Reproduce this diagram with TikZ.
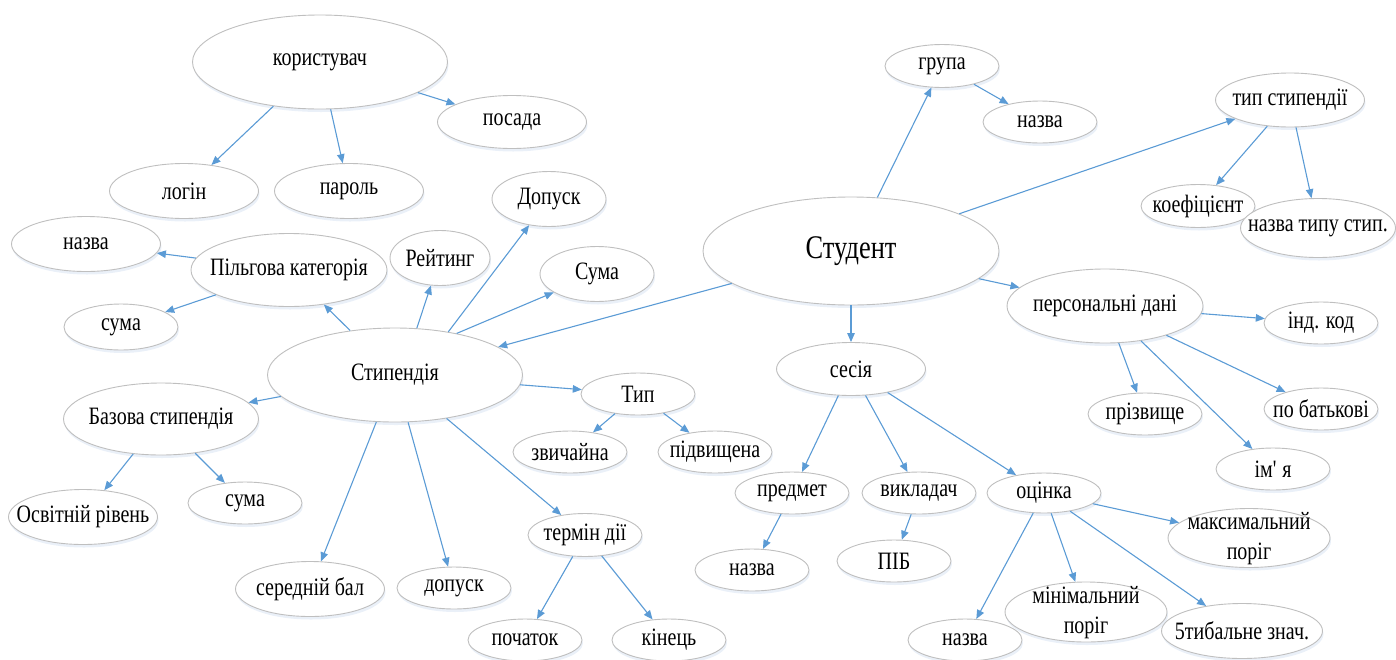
\documentclass[tikz,border=0pt]{standalone}
\usepackage{fontspec}
\setmainfont[FakeStretch=0.8]{Liberation Serif}
\usetikzlibrary{shapes.geometric,arrows.meta,shadows}
\definecolor{ovline}{HTML}{BFBFBF}
\definecolor{linkblue}{HTML}{5B9BD5}
\definecolor{ovshadow}{HTML}{DCE6F4}
\newcommand{\nw}[1]{\makebox[0pt]{#1}}
\newcommand{\twol}[2]{\makebox[0pt]{\begin{tabular}{@{}c@{}}#1\\#2\end{tabular}}}
\begin{document}
\begin{tikzpicture}[x=1pt, y=-1pt,
  every node/.style={inner sep=0pt, font=\fontsize{25}{30}\selectfont},
  ov/.style={ellipse, draw=ovline, line width=0.9pt, fill=white,
    drop shadow={shadow xshift=1pt, shadow yshift=-3pt, fill=ovshadow, opacity=0.6}},
  sm/.style={ov, minimum width=114pt, minimum height=42pt},
  md/.style={ov, minimum width=149pt, minimum height=55pt},
  lg/.style={ov, minimum width=196pt, minimum height=73pt},
  hub/.style={ov, minimum width=255pt, minimum height=94pt},
  twoline/.style={ov, inner ysep=-16pt},
  link/.style={draw=linkblue, line width=1.1pt, -{Triangle[length=9pt, width=7.5pt]}}]
  \useasboundingbox (0,0) rectangle (1396,659);
  \node[hub] (user) at (320,62) {\nw{користувач}};
  \node[md] (login) at (184,191) {\nw{логін}};
  \node[md] (pass) at (349,191) {\nw{пароль}};
  \node[md, minimum height=53pt] (posada) at (512,122) {\nw{посада}};
  \node[md] (naz1) at (86,244) {\nw{назва}};
  \node[lg] (pilg) at (289,270) {\nw{Пільгова категорія}};
  \node[md, minimum width=100pt] (rating) at (440,258) {\nw{Рейтинг}};
  \node[sm, minimum height=46pt] (suma1) at (121,327) {\nw{сума}};
  \node[sm, minimum height=55pt] (dopusk) at (549,199) {\nw{Допуск}};
  \node[sm, minimum height=55pt] (suma2) at (597,274) {\nw{Сума}};
  \node[hub] (stip) at (395,375) {\nw{Стипендія}};
  \node[lg, minimum width=195pt, minimum height=72pt] (bazova) at (161,419) {\nw{Базова стипендія}};
  \node[md] (osvit) at (83,517) {\nw{Освітній рівень}};
  \node[sm] (suma3) at (245,503) {\nw{сума}};
  \node[md] (serbal) at (310,589) {\nw{середній бал}};
  \node[sm] (dopusk2) at (454,588) {\nw{допуск}};
  \node[sm] (typ) at (638,394) {\nw{Тип}};
  \node[sm] (zvych) at (570,452) {\nw{звичайна}};
  \node[sm] (pidv) at (715,452) {\nw{підвищена}};
  \node[sm, minimum height=43pt] (termin) at (585,535) {\nw{термін дії}};
  \node[sm] (pochatok) at (525,640) {\nw{початок}};
  \node[sm] (kinets) at (669,640) {\nw{кінець}};
  \node[ov, minimum width=296pt, minimum height=108pt, font=\fontsize{33}{36}\selectfont] (stud) at (851,251) {\nw{Студент}};
  \node[sm, minimum height=43pt] (grupa) at (942,66) {\nw{група}};
  \node[sm] (naz2) at (1040,122) {\nw{назва}};
  \node[md, minimum height=54pt] (typst) at (1290,100) {\nw{тип стипендії}};
  \node[sm, minimum height=43pt] (koef) at (1198,206) {\nw{коефіцієнт}};
  \node[ov, minimum width=155pt, minimum height=59pt] (naztyp) at (1318,228) {\nw{назва типу стип.}};
  \node[lg, minimum height=74pt] (pers) at (1105,306) {\nw{персональні дані}};
  \node[sm] (indkod) at (1321,323) {\nw{інд. код}};
  \node[sm] (prizv) at (1145,414) {\nw{прізвище}};
  \node[sm] (pobatk) at (1321,409) {\nw{по батькові}};
  \node[sm] (imya) at (1273,469) {\nw{ім\textquotesingle\ я}};
  \node[md, minimum height=53pt] (sesia) at (851,369) {\nw{сесія}};
  \node[sm] (predmet) at (792,493) {\nw{предмет}};
  \node[sm] (vykl) at (919,493) {\nw{викладач}};
  \node[sm] (naz3) at (752,570) {\nw{назва}};
  \node[sm] (pib) at (894,561) {\nw{ПІБ}};
  \node[sm, minimum height=40pt] (otsinka) at (1044,493) {\nw{оцінка}};
  \node[twoline, minimum width=162pt, minimum height=59pt] (maxpor) at (1249,538) {\twol{максимальний}{поріг}};
  \node[twoline, minimum width=162pt, minimum height=60pt] (minpor) at (1086,612) {\twol{мінімальний}{поріг}};
  \node[ov, minimum width=161pt, minimum height=55pt] (pyatyb) at (1242,631) {\nw{5тибальне знач.}};
  \node[sm] (naz4) at (965,640) {\nw{назва}};
  \draw[link] (user) -- (login);
  \draw[link] (user) -- (pass);
  \draw[link] (user) -- (posada);
  \draw[link] (pilg) -- (naz1);
  \draw[link] (pilg) -- (suma1);
  \draw[link] (stip) -- (pilg);
  \draw[link] (stip.65) -- (rating);
  \draw[link] (stip.39) -- (dopusk);
  \draw[link] (stip.34) -- (suma2);
  \draw[link] (stip) -- (bazova);
  \draw[link] (stip) -- (typ);
  \draw[link] (stip) -- (termin);
  \draw[link] (stip) -- (serbal);
  \draw[link] (stip) -- (dopusk2);
  \draw[link] (bazova) -- (osvit);
  \draw[link] (bazova) -- (suma3);
  \draw[link] (typ) -- (zvych);
  \draw[link] (typ) -- (pidv);
  \draw[link] (termin) -- (pochatok);
  \draw[link] (termin) -- (kinets);
  \draw[link] (stud) -- (stip);
  \draw[link] (stud) -- (grupa);
  \draw[link] (stud) -- (typst);
  \draw[link] (stud) -- (pers);
  \draw[link] (stud) -- (sesia);
  \draw[link] (grupa) -- (naz2);
  \draw[link] (typst) -- (koef);
  \draw[link] (typst) -- (naztyp);
  \draw[link] (pers) -- (indkod);
  \draw[link] (pers) -- (prizv);
  \draw[link] (pers) -- (imya);
  \draw[link] (pers) -- (pobatk);
  \draw[link] (sesia) -- (predmet);
  \draw[link] (sesia) -- (vykl);
  \draw[link] (sesia) -- (otsinka);
  \draw[link] (predmet) -- (naz3);
  \draw[link] (vykl) -- (pib);
  \draw[link] (otsinka) -- (naz4);
  \draw[link] (otsinka) -- (minpor);
  \draw[link] (otsinka) -- (pyatyb);
  \draw[link] (otsinka) -- (maxpor);
\end{tikzpicture}
\end{document}
